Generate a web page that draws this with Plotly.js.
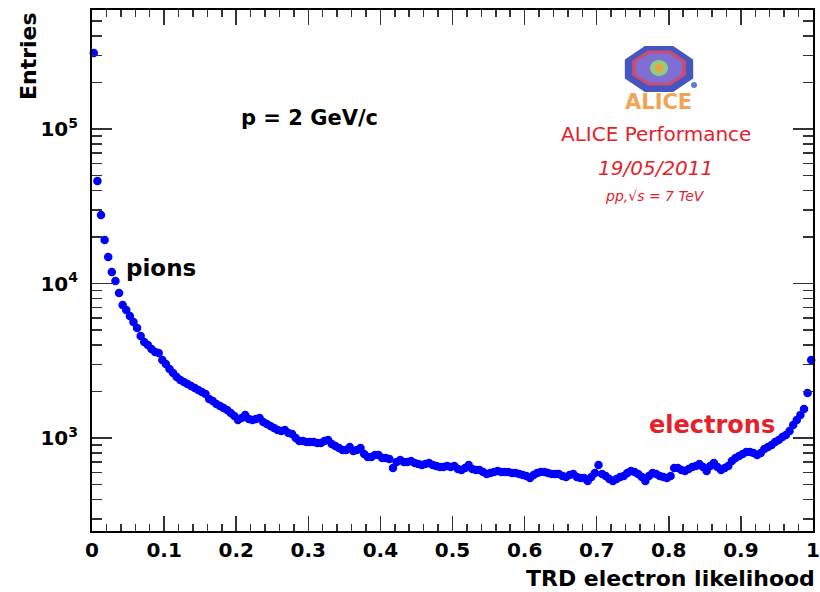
<!DOCTYPE html>
<html>
<head>
<meta charset="utf-8">
<script src="https://cdn.plot.ly/plotly-3.0.1.min.js"></script>
<style>html,body{margin:0;padding:0;background:#fff;}#plot{width:820px;height:592px;}</style>
</head>
<body>
<div id="plot"></div>
<script>
// Histogram binning of the TRD electron likelihood (200 bins from 0 to 1)
const binRange = [0, 1];
const nBins = 200;
// Entries per bin
const entries = [
 310400, 46070, 27760, 19120, 14840, 11870, 10380, 8690, 7257, 6736,
 6160, 5637, 5157, 4570, 4180, 3996, 3765, 3605, 3551, 3200,
 3013, 2795, 2634, 2482, 2374, 2304, 2237, 2171, 2107, 2046,
 1985, 1927, 1789, 1736, 1660, 1611, 1564, 1518, 1451, 1388,
 1307, 1347, 1409, 1327, 1307, 1327, 1347, 1269, 1232, 1196,
 1160, 1126, 1110, 1126, 1077, 1061, 1000, 956, 956, 942,
 942, 942, 928, 928, 956, 971, 914, 887, 861, 836,
 836, 874, 824, 836, 861, 788, 753, 753, 776, 776,
 742, 742, 731, 639, 699, 720, 699, 699, 710, 689,
 679, 669, 679, 689, 669, 659, 649, 649, 659, 649,
 659, 630, 621, 639, 669, 630, 621, 621, 603, 585,
 594, 603, 612, 603, 603, 603, 594, 594, 585, 576,
 568, 551, 576, 594, 603, 603, 594, 585, 585, 585,
 568, 559, 576, 585, 559, 551, 551, 527, 559, 594,
 669, 585, 568, 543, 527, 543, 559, 568, 594, 612,
 603, 585, 559, 527, 568, 594, 585, 568, 559, 551,
 568, 639, 639, 621, 612, 630, 649, 659, 679, 649,
 612, 659, 689, 649, 621, 639, 659, 710, 742, 765,
 788, 812, 812, 800, 776, 800, 849, 874, 901, 942,
 971, 1015, 1046, 1110, 1214, 1307, 1409, 1541, 1956, 3200
];
const xTickVals = [0, 0.1, 0.2, 0.3, 0.4, 0.5, 0.6, 0.7, 0.8, 0.9, 1];
const xTickText = ['0', '0.1', '0.2', '0.3', '0.4', '0.5', '0.6', '0.7', '0.8', '0.9', '1'];
const yTickVals = [1e3, 1e4, 1e5];
const yTickText = ['10<sup>3</sup>', '10<sup>4</sup>', '10<sup>5</sup>'];
const yMinorVals = [300, 400, 500, 600, 700, 800, 900, 2000, 3000, 4000, 5000, 6000, 7000, 8000, 9000,
  20000, 30000, 40000, 50000, 60000, 70000, 80000, 90000, 200000, 300000, 400000, 500000];

const binW = (binRange[1] - binRange[0]) / nBins;
const centers = entries.map((_, i) => binRange[0] + (i + 0.5) * binW);

const red = '#e4222b';
const boldFont = 'DejaVu Sans';

// Frame in pixels, used only to place decorations and texts
const L = 92, R = 813, T = 10, B = 531;
const px = v => (v - L) / (R - L);
const py = v => (B - v) / (B - T);
function octagon(cx, cy, rx, ry) {
  let d = '';
  for (let k = 0; k < 8; k++) {
    const a = (22.5 + 45 * k) * Math.PI / 180;
    d += (k ? ' L ' : 'M ') + px(cx + rx * Math.cos(a)).toFixed(5) + ' ' + py(cy + ry * Math.sin(a)).toFixed(5);
  }
  return d + ' Z';
}
const shapes = [
  {type: 'path', xref: 'paper', yref: 'paper', path: octagon(659, 69, 37, 25), fillcolor: '#4656c0', line: {width: 0}},
  {type: 'path', xref: 'paper', yref: 'paper', path: octagon(659, 68, 29, 19), fillcolor: '#cf4b6e', line: {width: 0}},
  {type: 'path', xref: 'paper', yref: 'paper', path: octagon(659, 68, 25, 16), fillcolor: '#7d6fd4', line: {width: 0}},
  {type: 'circle', xref: 'paper', yref: 'paper', x0: px(650), x1: px(668), y0: py(76), y1: py(60), fillcolor: '#8fcf7a', line: {width: 0}},
  {type: 'circle', xref: 'paper', yref: 'paper', x0: px(655), x1: px(663), y0: py(72), y1: py(64), fillcolor: '#f0a040', line: {width: 0}},
  {type: 'circle', xref: 'paper', yref: 'paper', x0: px(691), x1: px(697), y0: py(88), y1: py(82), fillcolor: '#5b7fd0', line: {width: 0}}
];

const trace = {
  x: centers,
  y: entries,
  type: 'scatter',
  mode: 'markers',
  marker: {color: '#0000ff', size: 8.5},
  cliponaxis: false,
  hoverinfo: 'x+y'
};

const ann = (text, x, y, opts) => Object.assign({text, x: px(x), y: py(y), xref: 'paper', yref: 'paper', xanchor: 'center', yanchor: 'middle', showarrow: false}, opts);

const layout = {
  width: 820, height: 592,
  margin: {l: 92, r: 820 - R, t: 10, b: 592 - B},
  paper_bgcolor: '#ffffff', plot_bgcolor: '#ffffff',
  showlegend: false,
  xaxis: {
    range: [0, 1], tickmode: 'array', tickvals: xTickVals, ticktext: xTickText,
    ticks: 'inside', ticklen: 15, tickwidth: 1.5, tickcolor: '#333',
    minor: {dtick: 0.02, tick0: 0, ticks: 'inside', ticklen: 7, tickwidth: 1.5, tickcolor: '#333'},
    showline: true, linecolor: '#000', linewidth: 2, mirror: 'ticks',
    showgrid: false, zeroline: false, ticklabeloverflow: 'allow',
    tickfont: {family: boldFont, size: 20, color: '#000', weight: 'bold'}
  },
  yaxis: {
    type: 'log', range: [Math.log10(250), Math.log10(590000)],
    tickmode: 'array', tickvals: yTickVals, ticktext: yTickText,
    ticks: 'inside', ticklen: 20, tickwidth: 1.5, tickcolor: '#333',
    minor: {tickmode: 'array', tickvals: yMinorVals, ticks: 'inside', ticklen: 10, tickwidth: 1.5, tickcolor: '#333'},
    showline: true, linecolor: '#000', linewidth: 2, mirror: 'ticks',
    showgrid: false, zeroline: false, ticklabelstandoff: 8,
    tickfont: {family: boldFont, size: 20, color: '#000', weight: 'bold'}
  },
  shapes: shapes,
  annotations: [
    ann('Entries', 28, 56, {textangle: -90, font: {family: boldFont, size: 22, color: '#000', weight: 'bold'}}),
    ann('TRD electron likelihood', 817, 578, {xanchor: 'right', font: {family: boldFont, size: 22, color: '#000', weight: 'bold'}}),
    ann('p = 2 GeV/c', 309.5, 118, {font: {family: boldFont, size: 21, color: '#000', weight: 'bold'}}),
    ann('pions', 161, 268, {font: {family: boldFont, size: 23, color: '#000', weight: 'bold'}}),
    ann('electrons', 711.5, 425, {font: {family: boldFont, size: 24, color: red, weight: 'bold'}}),
    ann('ALICE', 658, 102, {font: {family: boldFont, size: 21, color: '#f2a456', weight: 'bold'}}),
    ann('ALICE Performance', 656, 134, {font: {family: 'DejaVu Sans', size: 20, color: red}}),
    ann('<i>19/05/2011</i>', 655, 168, {font: {family: 'DejaVu Sans', size: 20, color: red}}),
    ann('<i>pp,√s = 7 TeV</i>', 655, 196, {font: {family: 'DejaVu Sans', size: 14, color: red}})
  ]
};

Plotly.newPlot('plot', [trace], layout, {displayModeBar: false, staticPlot: true});
</script>
</body>
</html>
